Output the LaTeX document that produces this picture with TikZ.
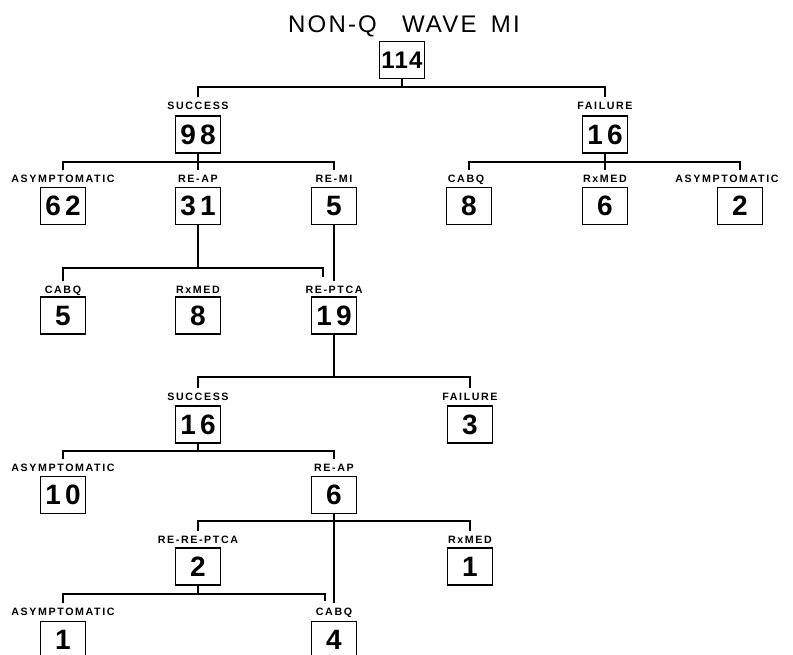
\documentclass[tikz,border=0pt]{standalone}
\usepackage{fontspec}
\setmainfont{Liberation Sans}
\newfontfamily\spacedfont[LetterSpace=15]{Liberation Sans}
\newfontfamily\rootfont[LetterSpace=5]{Liberation Sans}
\newfontfamily\titlefont[LetterSpace=9]{Liberation Sans}
\usepackage{tikz}

\begin{document}
\begin{tikzpicture}[
  x=0.75pt, y=-0.75pt, line width=1.3pt,
  nbox/.style={draw,line width=1.4pt,minimum width=33.75pt,minimum height=27.75pt,inner sep=0pt,font=\spacedfont\bfseries\fontsize{21}{21}\selectfont},
  lbl/.style={inner sep=2pt,text height=6pt,text depth=0pt,font=\spacedfont\bfseries\fontsize{8}{8}\selectfont},
  heading/.style={inner sep=0pt,font=\titlefont\fontsize{18}{18}\selectfont}
]
  \useasboundingbox (0,0) rectangle (793,654);
  \clip (0,0) rectangle (793,654);
  \node[heading] (title) at (404,26) {NON-Q\hspace{1.05em}WAVE\hspace{0.6em}MI};
  \node[nbox,font=\rootfont\bfseries\fontsize{18}{18}\selectfont] (b114) at (402,60) {114};
  \node[lbl] (t98) at (198,105) {SUCCESS};
  \node[nbox] (b98) at (198,134.5) {98};
  \node[lbl] (t16a) at (605,105) {FAILURE};
  \node[nbox] (b16a) at (605,134.5) {16};
  \node[lbl] (t62) at (63,178) {ASYMPTOMATIC};
  \node[nbox] (b62) at (63,206) {62};
  \node[lbl] (t31) at (198,178) {RE-AP};
  \node[nbox] (b31) at (198,206) {31};
  \node[lbl] (t5a) at (334,178) {RE-MI};
  \node[nbox] (b5a) at (334,206) {5};
  \node[lbl] (t8a) at (466,178) {CABQ};
  \node[nbox] (b8a) at (469,206) {8};
  \node[lbl] (t6a) at (605,178) {RxMED};
  \node[nbox] (b6a) at (605,206) {6};
  \node[lbl] (t2a) at (727,178) {ASYMPTOMATIC};
  \node[nbox] (b2a) at (740,206) {2};
  \node[lbl] (t5b) at (63,289) {CABQ};
  \node[nbox] (b5b) at (63,315.5) {5};
  \node[lbl] (t8b) at (198,289) {RxMED};
  \node[nbox] (b8b) at (198,315.5) {8};
  \node[lbl] (t19) at (334,289) {RE-PTCA};
  \node[nbox] (b19) at (334,315.5) {19};
  \node[lbl] (t16b) at (198,396) {SUCCESS};
  \node[nbox] (b16b) at (198,424.5) {16};
  \node[lbl] (t3) at (470,396) {FAILURE};
  \node[nbox] (b3) at (470,424.5) {3};
  \node[lbl] (t10) at (63,467) {ASYMPTOMATIC};
  \node[nbox] (b10) at (63,495) {10};
  \node[lbl] (t6b) at (334,467) {RE-AP};
  \node[nbox] (b6b) at (334,495) {6};
  \node[lbl] (t2b) at (198,539) {RE-RE-PTCA};
  \node[nbox] (b2b) at (198,566.5) {2};
  \node[lbl] (t1a) at (470,539) {RxMED};
  \node[nbox] (b1a) at (470,566.5) {1};
  \node[lbl] (t1b) at (63,611) {ASYMPTOMATIC};
  \node[nbox] (b1b) at (63,640) {1};
  \node[lbl] (t4) at (334,611) {CABQ};
  \node[nbox] (b4) at (334,640) {4};
  \coordinate (r0) at (402,87);
  \coordinate (r1) at (198,162);
  \coordinate (r2) at (605,162);
  \coordinate (r3) at (198,268);
  \coordinate (e3) at (323,277);
  \coordinate (r4) at (334,377);
  \coordinate (r5) at (198,451);
  \coordinate (r6) at (334,521);
  \coordinate (r7) at (198,594);
  \coordinate (e7) at (325,601);
  \draw (b114) -- (r0);
  \draw (t98) |- (r0) -| (t16a);
  \draw (b98) -- (r1) -- (t31);
  \draw (t62) |- (r1) -| (t5a);
  \draw (b16a) -- (r2) -- (t6a);
  \draw (t8a.north -| b8a) |- (r2) -| (t2a.north -| b2a);
  \draw (b31) -- (r3);
  \draw (t5b) |- (r3) -| (e3);
  \draw (b5a) -- (t19);
  \draw (b19) -- (r4);
  \draw (t16b) |- (r4) -| (t3);
  \draw (b16b) -- (r5);
  \draw (t10) |- (r5) -| (t6b);
  \draw (b6b) -- (t4);
  \draw (t2b) |- (r6) -| (t1a);
  \draw (b2b) -- (r7);
  \draw (t1b) |- (r7) -| (e7);
\end{tikzpicture}
\end{document}
